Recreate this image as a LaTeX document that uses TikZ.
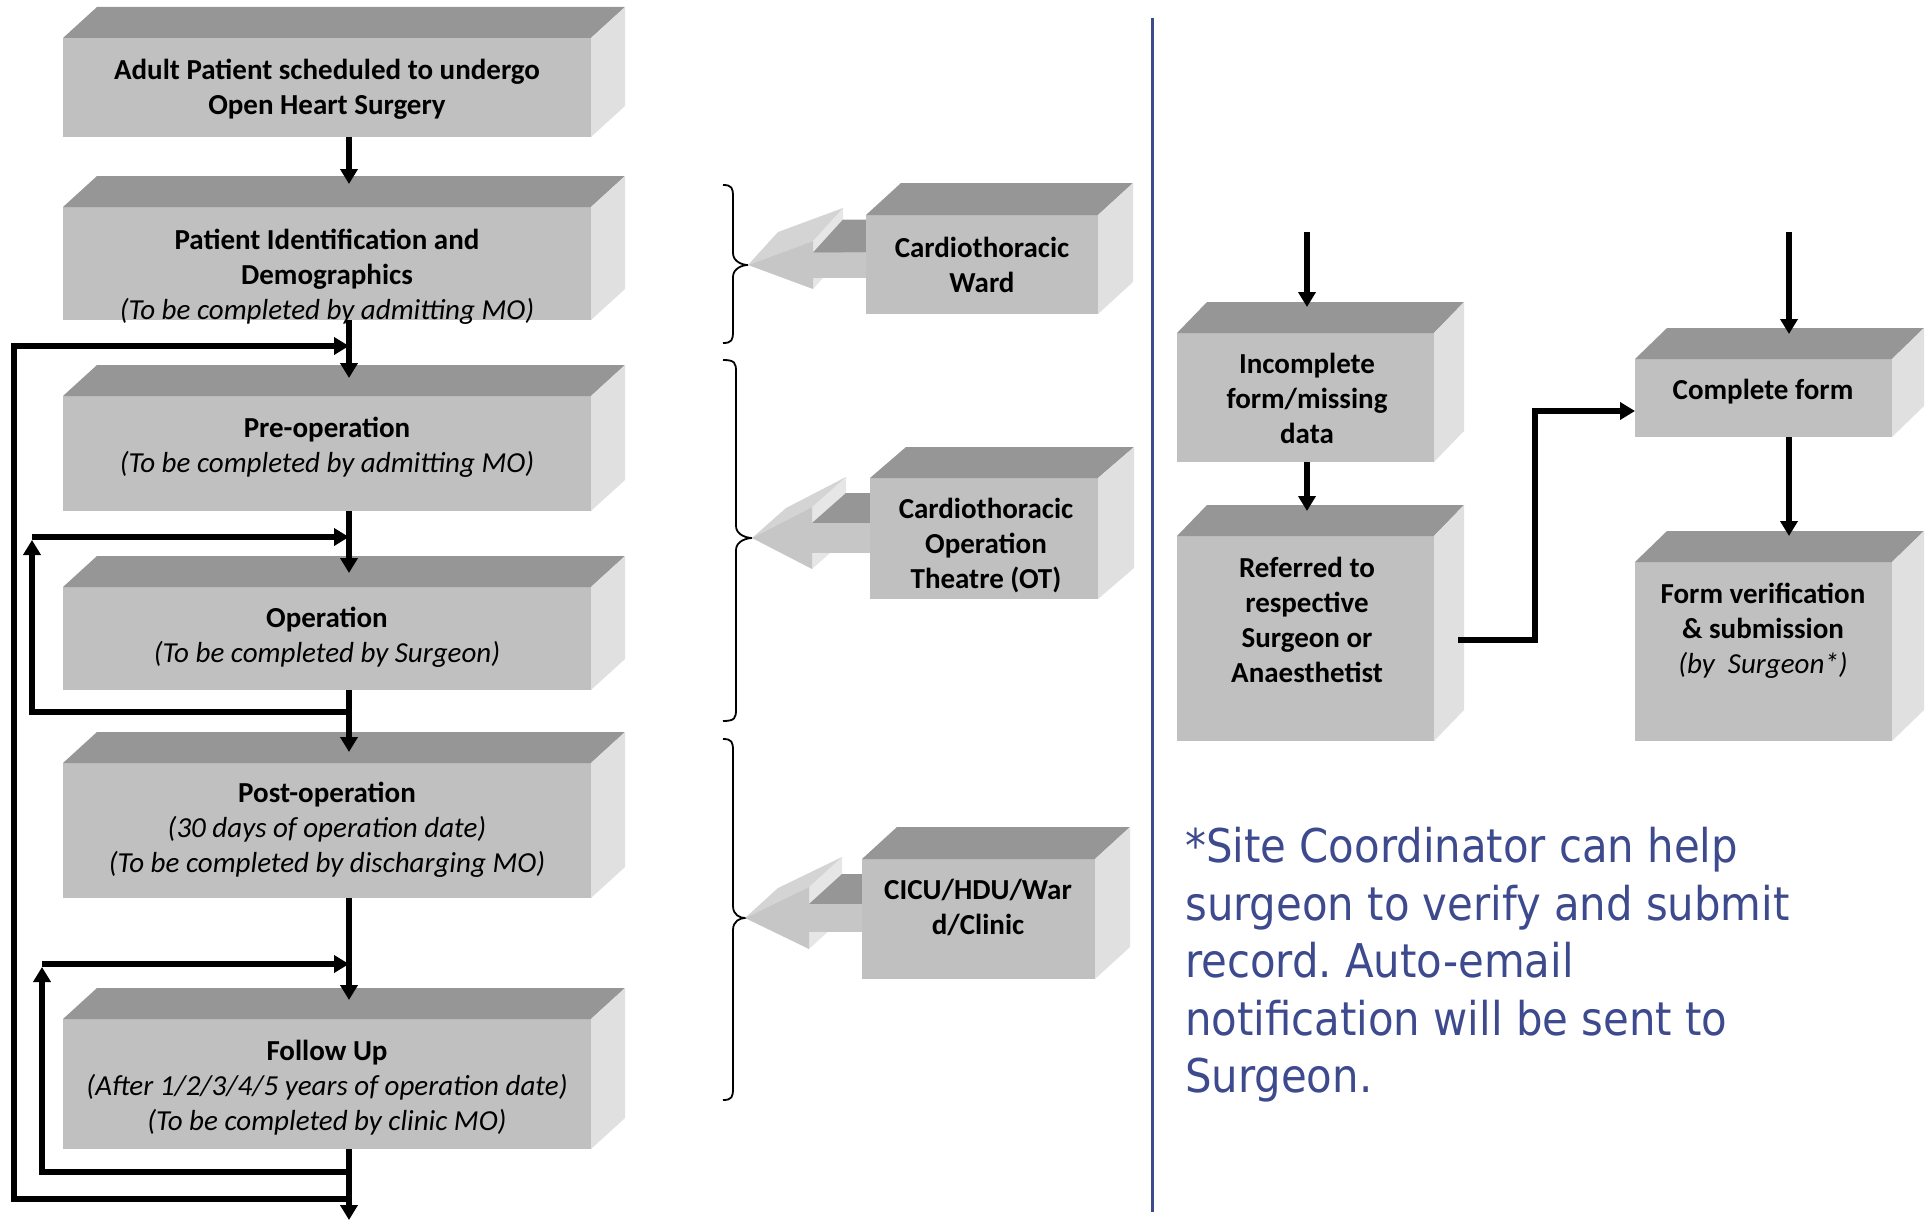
\documentclass[tikz,border=0pt]{standalone}
\usepackage{fontspec}
\setmainfont{Carlito}
\newfontfamily\notefont{DejaVu Sans Condensed}
\usetikzlibrary{arrows.meta,calc}
\frenchspacing
\definecolor{topc}{RGB}{150,150,150}
\definecolor{frontc}{RGB}{192,192,192}
\definecolor{sidec}{RGB}{224,224,224}
\definecolor{notec}{RGB}{62,74,142}
\definecolor{ahfront}{RGB}{198,198,198}
\definecolor{ahtop}{RGB}{212,212,212}
\definecolor{ahback}{RGB}{230,230,230}
\newcommand{\ital}[1]{{\mdseries\itshape #1}}
% 3D box: name, x1, y1, x2, y2, depth dx, depth up
\newcommand{\tdbox}[7]{%
  \node[frontbox, minimum width={(#4-#2)*1pt}, minimum height={(#5-#3)*1pt}] (#1) at ({(#2+#4)/2},{(#3+#5)/2}) {};
  \fill[topc] (#1.north west) -- ++(#6,-#7) -- ($(#1.north east)+(#6,-#7)$) -- (#1.north east) -- cycle;
  \fill[sidec] (#1.north east) -- ++(#6,-#7) -- ($(#1.south east)+(#6,-#7)$) -- (#1.south east) -- cycle;
}
% 3D block arrow pointing left: tipx, tipy, head length, head half height, shaft half height, ext dx, ext up, shaft end x
\newcommand{\tdarrow}[8]{%
  \fill[ahback] ({#1+#3},{#2-#4}) -- ({#1+#3},{#2+#4}) -- ({#1+#3+#6},{#2+#4-#7}) -- ({#1+#3+#6},{#2-#4-#7}) -- cycle;
  \fill[topc] ({#1+#3},{#2-#5}) -- ({#1+#3+#6},{#2-#5-#7}) -- (#8,{#2-#5-#7}) -- (#8,{#2-#5}) -- cycle;
  \fill[ahfront] ({#1+#3},{#2-#5}) rectangle (#8,{#2+#5});
  \fill[ahtop] (#1,#2) -- ({#1+#6},{#2-#7}) -- ({#1+#3+#6},{#2-#4-#7}) -- ({#1+#3},{#2-#4}) -- cycle;
  \fill[ahfront] (#1,#2) -- ({#1+#3},{#2-#4}) -- ({#1+#3},{#2+#4}) -- cycle;
}
% curly brace: x end, x spine, x cusp, y top, y cusp, y bottom
\newcommand{\cbrace}[6]{%
  \draw[bracel] (#1,#4) .. controls ({#2-1},#4) and (#2,{#4+3}) .. (#2,{#4+12}) -- (#2,{#5-12}) .. controls (#2,{#5-3}) and ({#3-5},#5) .. (#3,#5) .. controls ({#3-5},#5) and (#2,{#5+3}) .. (#2,{#5+12}) -- (#2,{#6-12}) .. controls (#2,{#6-3}) and ({#2-1},#6) .. (#1,#6);
}
\begin{document}
\begin{tikzpicture}[x=1pt,y=-1pt,
  frontbox/.style={fill=frontc, draw=none, inner sep=0pt, outer sep=0pt},
  btext/.style={align=center, inner sep=0pt, font=\bfseries\fontsize{29}{35}\selectfont},
  conn/.style={line width=5.5pt, line join=miter, draw=black},
  arrowend/.style={-{Triangle[length=15pt,width=17pt]}},
  bracel/.style={line width=1.8pt, draw=black},
]
\useasboundingbox (0,0) rectangle (1930,1220);

% ---------- left column boxes ----------
\tdbox{b1}{63}{38}{591}{137}{34}{31}
\tdbox{b2}{63}{207}{591}{320}{34}{31}
\tdbox{b3}{63}{396}{591}{511}{34}{31}
\tdbox{b4}{63}{587}{591}{690}{34}{31}
\tdbox{b5}{63}{763}{591}{898}{34}{31}
\tdbox{b6}{63}{1019}{591}{1149}{34}{31}

\node[btext] (b1t) at (327,89) {Adult Patient scheduled to undergo\\Open Heart Surgery};
\node[btext] (b2t) at (327,277) {Patient Identification and\\Demographics\\\ital{(To be completed by admitting MO)}};
\node[btext] (b3t) at (327,447) {Pre-operation\\\ital{(To be completed by admitting MO)}};
\node[btext] (b4t) at (327,637) {Operation\\\ital{(To be completed by Surgeon)}};
\node[btext] (b5t) at (327,830) {Post-operation\\\ital{(30 days of operation date)}\\\ital{(To be completed by discharging MO)}};
\node[btext] (b6t) at (327,1088) {Follow Up\\\ital{(After 1/2/3/4/5 years of operation date)}\\\ital{(To be completed by clinic MO)}};

% ---------- left column connectors ----------
\coordinate (ax) at (349,0);
\draw[conn,arrowend] (ax |- b1.south) -- ($(ax |- b2.north)+(0,-23)$);
\draw[conn,arrowend] (ax |- b2.south) -- ($(ax |- b3.north)+(0,-18)$);
\draw[conn,arrowend] (ax |- b3.south) -- ($(ax |- b4.north)+(0,-14)$);
\draw[conn,arrowend] (ax |- b4.south) -- ($(ax |- b5.north)+(0,-11)$);
\draw[conn,arrowend] (ax |- b5.south) -- ($(ax |- b6.north)+(0,-19)$);
\coordinate (lend) at (349,1220);
\draw[conn,arrowend] (ax |- b6.south) -- (lend);

% outer loop
\coordinate (lo1) at (349,1199);
\coordinate (lo2) at (14,1199);
\coordinate (lo3) at (14,346);
\coordinate (lo4) at (349,346);
\draw[conn,arrowend] (lo1) -- (lo2) -- (lo3) -- (lo4);
% inner loop 1
\coordinate (la1) at (349,712);
\coordinate (la2) at (32,712);
\coordinate (la3) at (32,540);
\coordinate (la4) at (32,537);
\coordinate (la5) at (349,537);
\draw[conn,arrowend] (la1) -- (la2) -- (la3);
\draw[conn,arrowend] (la4) -- (la5);
% inner loop 2
\coordinate (lb1) at (349,1172);
\coordinate (lb2) at (42,1172);
\coordinate (lb3) at (42,967);
\coordinate (lb4) at (42,964);
\coordinate (lb5) at (349,964);
\draw[conn,arrowend] (lb1) -- (lb2) -- (lb3);
\draw[conn,arrowend] (lb4) -- (lb5);

% ---------- braces ----------
\cbrace{723}{733}{748}{185}{265}{343}
\cbrace{723}{736}{752}{360}{538}{721}
\cbrace{723}{733}{745}{739}{918}{1100}

% ---------- middle column ----------
\tdarrow{748}{265}{65}{24}{12.5}{30}{33}{870}
\tdarrow{752}{538}{60}{31}{15}{34}{30}{874}
\tdarrow{745}{918}{64}{31}{14}{33}{30}{866}

\tdbox{mw}{866}{215}{1098}{314}{35}{32}
\tdbox{mo}{870}{478}{1098}{599}{36}{31}
\tdbox{mc}{862}{859}{1095}{979}{35}{32}

\node[btext] (mwt) at (982,265) {Cardiothoracic\\Ward};
\node[btext] (mot) at (986,546) {Cardiothoracic\\Operation\\Theatre (OT)};
\node[btext] (mct) at (978,907) {CICU/HDU/War\\d/Clinic};

% ---------- divider ----------
\coordinate (dv1) at (1152,18);
\coordinate (dv2) at (1152,1212);
\draw[notec, line width=3pt] (dv1) -- (dv2);

% ---------- right flow ----------
\tdbox{ri}{1177}{333}{1434}{462}{30}{31}
\tdbox{rr}{1177}{536}{1434}{741}{30}{31}
\tdbox{rc}{1635}{359}{1892}{437}{32}{31}
\tdbox{rv}{1635}{562}{1892}{741}{32}{31}

\node[btext] (rit) at (1307,398) {Incomplete\\form/missing\\data};
\node[btext] (rrt) at (1307,620) {Referred to\\respective\\Surgeon or\\Anaesthetist};
\node[btext] (rct) at (1763,392) {Complete form};
\node[btext] (rvt) at (1763,631) {Form verification\\\& submission\\\ital{(by~~Surgeon*)}};

\coordinate (rx1) at (1307,0);
\coordinate (rx2) at (1789,0);
\coordinate (ri0) at (1307,232);
\coordinate (rc0) at (1789,232);
\draw[conn,arrowend] (ri0) -- ($(rx1 |- ri.north)+(0,-26)$);
\draw[conn,arrowend] (rx1 |- ri.south) -- ($(rx1 |- rr.north)+(0,-25)$);
\draw[conn,arrowend] (rc0) -- ($(rx2 |- rc.north)+(0,-25)$);
\draw[conn,arrowend] (rx2 |- rc.south) -- ($(rx2 |- rv.north)+(0,-26)$);
\draw[conn,arrowend] ($(rr.east)+(24,1.5)$) -- ++(77,0) |- ($(rc.west)+(0,13)$);

% ---------- note ----------
\node[anchor=north west, align=left, inner sep=0pt, text=notec,
      font=\notefont\fontsize{46.5}{57.5}\selectfont] (note) at (1185,827)
  {*Site Coordinator can help\\surgeon to verify and submit\\record. Auto-email\\notification will be sent to\\Surgeon.};
\end{tikzpicture}
\end{document}
